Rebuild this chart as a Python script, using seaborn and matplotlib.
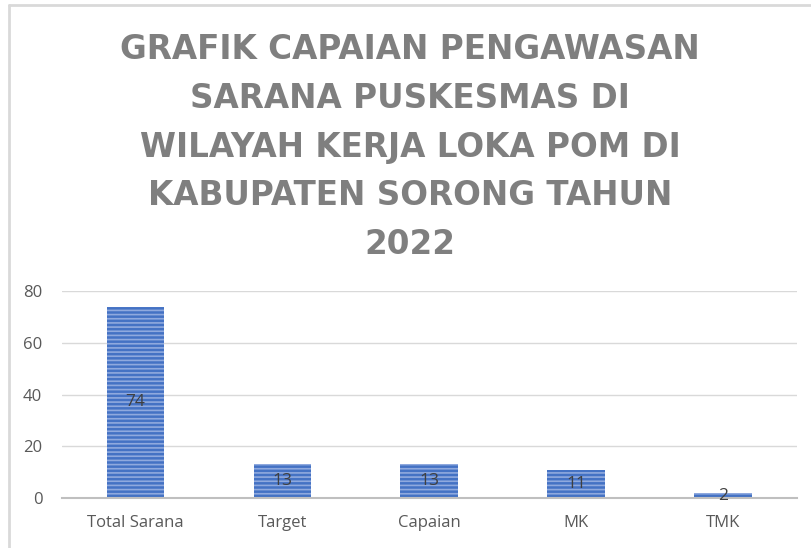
import matplotlib
matplotlib.use("Agg")
import matplotlib.pyplot as plt
import pandas as pd
import seaborn as sns
from matplotlib.lines import Line2D

# data
categories = ["Total Sarana", "Target", "Capaian", "MK", "TMK"]
values = [74, 13, 13, 11, 2]
title = "GRAFIK CAPAIAN PENGAWASAN\nSARANA PUSKESMAS DI\nWILAYAH KERJA LOKA POM DI\nKABUPATEN SORONG TAHUN\n2022"

df = pd.DataFrame({"kategori": categories, "jumlah": values})

sns.set_theme(style="white")
plt.rcParams["font.family"] = ["Open Sans", "DejaVu Sans"]
plt.rcParams["hatch.color"] = "#8fa9de"
plt.rcParams["hatch.linewidth"] = 1.2

fig = plt.figure(figsize=(8.12, 5.48), dpi=100)
ax = fig.add_axes([0.076, 0.091, 0.905, 0.378])

sns.barplot(data=df, x="kategori", y="jumlah", color="#4472c4", width=0.39,
            saturation=1, ax=ax)
for p in ax.patches:
    p.set_hatch("----")
    p.set_edgecolor("#8fa9de")
    p.set_linewidth(0)

for i, v in enumerate(values):
    ax.text(i, v / 2, str(v), ha="center", va="center", fontsize=12.5,
            color="#404040")

ax.set_ylim(0, 80)
ax.set_yticks([0, 20, 40, 60, 80])
ax.set_xlim(-0.5, len(categories) - 0.5)
ax.yaxis.grid(True, color="#d9d9d9", linewidth=1)
ax.set_axisbelow(True)
for s in ["top", "right", "left"]:
    ax.spines[s].set_visible(False)
ax.spines["bottom"].set_color("#bfbfbf")
ax.spines["bottom"].set_linewidth(1.5)
ax.tick_params(axis="both", length=0, labelsize=12, colors="#595959")
ax.tick_params(axis="x", pad=12)
ax.tick_params(axis="y", pad=14)
ax.set_xlabel("")
ax.set_ylabel("")

fig.text(0.505, 0.94, title, ha="center", va="top", fontsize=23.5,
         fontweight="bold", color="#7f7f7f", linespacing=1.61,
         family="DejaVu Sans")

# chart area border (left and top)
fig.add_artist(Line2D([0.0105, 0.0105], [0, 0.991], transform=fig.transFigure,
                      color="#d9d9d9", linewidth=2))
fig.add_artist(Line2D([0.0105, 1], [0.991, 0.991], transform=fig.transFigure,
                      color="#d9d9d9", linewidth=2))

fig.savefig("out.png", dpi=100)
